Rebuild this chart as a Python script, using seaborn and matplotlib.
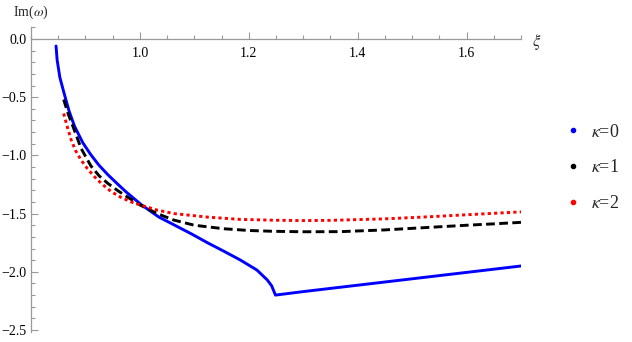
import numpy as np
import pandas as pd
import seaborn as sns
import matplotlib.pyplot as plt
from matplotlib.lines import Line2D
from matplotlib.ticker import MultipleLocator

sns.set_style("white")
plt.rcParams["font.family"] = ["Liberation Serif", "DejaVu Serif"]
plt.rcParams["mathtext.fontset"] = "stix"

# kappa = 0 (blue, solid)
xi_k0 = [0.846, 0.848, 0.853, 0.861, 0.870, 0.880, 0.895, 0.910, 0.925, 0.941,
         0.960, 0.975, 0.989, 1.003, 1.035, 1.062, 1.095, 1.124, 1.155, 1.185,
         1.215, 1.234, 1.242, 1.249, 1.30, 1.40, 1.50, 1.60, 1.70]
im_k0 = [-0.06, -0.18, -0.33, -0.47, -0.62, -0.75, -0.89, -0.995, -1.085, -1.165,
         -1.25, -1.315, -1.37, -1.425, -1.53, -1.595, -1.675, -1.75, -1.825, -1.90,
         -1.985, -2.07, -2.12, -2.20, -2.17, -2.115, -2.06, -2.005, -1.95]

# kappa = 1 (black, dashed)
xi_k1 = [0.860, 0.868, 0.877, 0.892, 0.910, 0.925, 0.941, 0.960, 0.978, 1.0,
         1.032, 1.062, 1.10, 1.154, 1.20, 1.245, 1.30, 1.368, 1.45, 1.532,
         1.60, 1.65, 1.70]
im_k1 = [-0.52, -0.64, -0.75, -0.94, -1.09, -1.175, -1.24, -1.305, -1.36, -1.425,
         -1.50, -1.555, -1.60, -1.63, -1.645, -1.652, -1.656, -1.655, -1.64, -1.618,
         -1.60, -1.588, -1.575]

# kappa = 2 (red, dotted)
xi_k2 = [0.860, 0.867, 0.874, 0.882, 0.892, 0.903, 0.916, 0.930, 0.947, 0.965,
         0.984, 1.0, 1.032, 1.063, 1.124, 1.185, 1.25, 1.30, 1.35, 1.45,
         1.532, 1.60, 1.70]
im_k2 = [-0.64, -0.76, -0.87, -0.96, -1.04, -1.11, -1.18, -1.245, -1.31, -1.36,
         -1.40, -1.425, -1.47, -1.50, -1.53, -1.55, -1.557, -1.56, -1.558, -1.545,
         -1.527, -1.51, -1.485]

kappas = ["0", "1", "2"]
colors = {"0": "#0000ff", "1": "#000000", "2": "#ff0000"}
dash = {"0": "", "1": (3.0, 1.5), "2": (1.1, 1.1)}

x_ticks = [1.0, 1.2, 1.4, 1.6]
x_labels = ["1.0", "1.2", "1.4", "1.6"]
y_ticks = [-2.5, -2.0, -1.5, -1.0, -0.5, 0.0]
y_labels = ["\u22122.5", "\u22122.0", "\u22121.5", "\u22121.0", "\u22120.5", "0.0"]

df = pd.concat([
    pd.DataFrame({"xi": xi_k0, "im": im_k0, "kappa": "0"}),
    pd.DataFrame({"xi": xi_k1, "im": im_k1, "kappa": "1"}),
    pd.DataFrame({"xi": xi_k2, "im": im_k2, "kappa": "2"}),
], ignore_index=True)

fig = plt.figure(figsize=(6.32, 3.42), dpi=100)
ax = fig.add_axes([31 / 632, 10 / 342, 490 / 632, 305 / 342])

sns.lineplot(data=df, x="xi", y="im", hue="kappa", style="kappa",
             hue_order=kappas, style_order=kappas,
             palette=colors, dashes=dash, estimator=None, sort=False,
             linewidth=2.1, legend=False, ax=ax)

ax.set_xlim(0.8, 1.7)
ax.set_ylim(-2.517, 0.103)
ax.set_xlabel("")
ax.set_ylabel("")
ax.set_facecolor("none")

gray = "#999999"
ax.spines["top"].set_visible(False)
ax.spines["right"].set_visible(False)
ax.spines["bottom"].set_position(("data", 0))
for s in ["bottom", "left"]:
    ax.spines[s].set_color(gray)
    ax.spines[s].set_linewidth(0.9)

ax.set_xticks(x_ticks)
ax.set_xticklabels(x_labels)
ax.set_yticks(y_ticks)
ax.set_yticklabels(y_labels)
ax.xaxis.set_minor_locator(MultipleLocator(0.05))
ax.yaxis.set_minor_locator(MultipleLocator(0.1))
ax.tick_params(which="both", bottom=True, left=True, top=False, right=False,
               direction="in", color=gray, width=0.8,
               labelsize=10, labelcolor="black")
ax.tick_params(which="major", length=5)
ax.tick_params(which="minor", length=3)
ax.tick_params(axis="x", pad=6)
ax.tick_params(axis="y", pad=3.5)

fig.text(13 / 632, 1 - 12 / 342, r"Im($\omega$)", fontsize=10,
         ha="left", va="center")
fig.text(537 / 632, 1 - 42 / 342, r"$\xi$", fontsize=12,
         ha="center", va="center")

handles = [Line2D([], [], ls="none", marker="o", markersize=3,
                  color=colors[k]) for k in kappas]
labels = [r"$\kappa$=" + k for k in kappas]
fig.legend(handles, labels, loc="center left",
           bbox_to_anchor=(563.7 / 632, 1 - 168 / 342),
           frameon=False, fontsize=13, handlelength=1.0, handletextpad=0.5,
           labelspacing=1.05, borderpad=0, borderaxespad=0)

fig.savefig("out.png", dpi=100)
